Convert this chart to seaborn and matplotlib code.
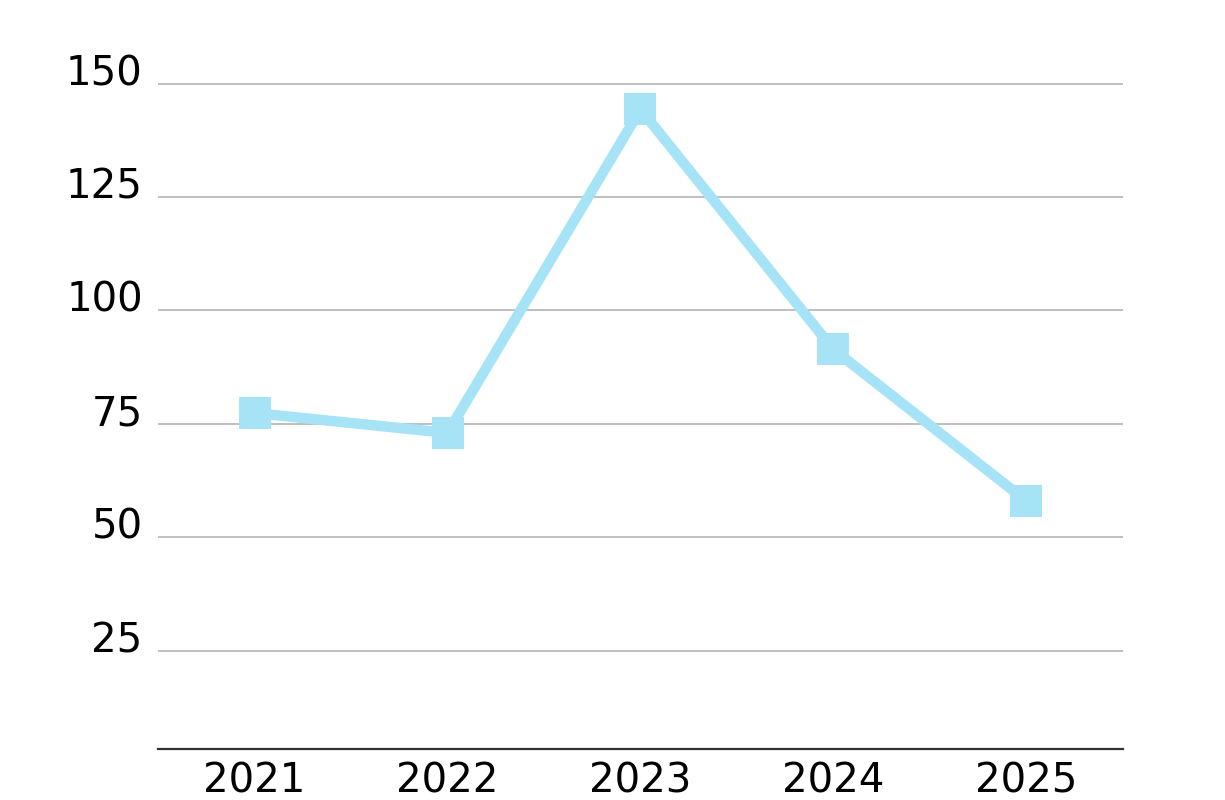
import matplotlib
matplotlib.use("Agg")
import matplotlib.pyplot as plt
import matplotlib.transforms as mtransforms
import pandas as pd
import seaborn as sns

years = ["2021", "2022", "2023", "2024", "2025"]
values = [77.4, 73.0, 144.3, 91.4, 58.0]
y_ticks = [25, 50, 75, 100, 125, 150]

LINE_COLOR = "#a6e3f7"
GRID_COLOR = "#b4b4b4"

df = pd.DataFrame({"year": years, "value": values})

sns.set_theme(style="white")
plt.rcParams["font.family"] = ["DejaVu Sans"]

fig = plt.figure(figsize=(12.25, 8), dpi=100)
ax = fig.add_axes([0.129, 0.064, 0.7877, 0.852])

sns.lineplot(
    data=df, x="year", y="value", ax=ax,
    color=LINE_COLOR, linewidth=7.5,
    marker="s", markersize=23, markeredgewidth=0,
    markerfacecolor=LINE_COLOR, sort=False,
)

ax.set_xlim(-0.5, 4.5)
ax.set_ylim(3.4, 153.6)
ax.set_yticks(y_ticks)
ax.set_yticklabels([str(v) for v in y_ticks])
ax.set_xlabel("")
ax.set_ylabel("")

ax.yaxis.grid(True, color=GRID_COLOR, linewidth=1.2)
ax.xaxis.grid(False)
ax.set_axisbelow(True)

for side in ["top", "left", "right"]:
    ax.spines[side].set_visible(False)
ax.spines["bottom"].set_color("#333333")
ax.spines["bottom"].set_linewidth(1.6)

ax.tick_params(axis="both", length=0, labelsize=29, colors="#000000")
ax.tick_params(axis="y", pad=11)
ax.tick_params(axis="x", pad=9)

# labels sit a little above their gridlines in the reference
offset = mtransforms.ScaledTranslation(0, 0.14, fig.dpi_scale_trans)
for lbl in ax.get_yticklabels():
    lbl.set_transform(lbl.get_transform() + offset)

fig.savefig("out.png", dpi=100)
plt.close(fig)
